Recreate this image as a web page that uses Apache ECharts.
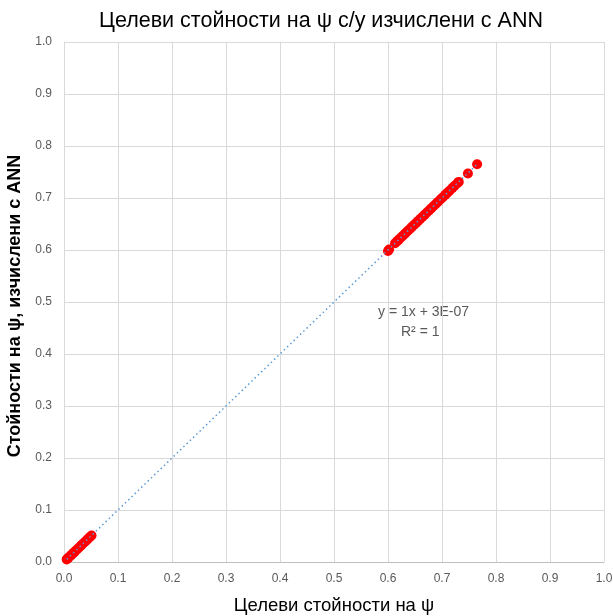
<!DOCTYPE html>
<html><head><meta charset="utf-8">
<script src="https://cdn.jsdelivr.net/npm/echarts@6/dist/echarts.min.js"></script>
<style>html,body{margin:0;padding:0;background:#fff}#c{width:613px;height:616px}</style>
</head><body><div id="c"></div>
<script>
const titleText = 'Целеви стойности на ψ с/у изчислени с ANN';
const xTitle = 'Целеви стойности на ψ';
const yTitle = 'Стойности на ψ, изчислени с ANN';
const targetX = [0.005,0.008,0.011,0.014,0.017,0.020,0.024,0.028,0.032,0.036,0.040,0.044,0.048,0.051,
  0.600,0.602,0.613,0.617,0.620,0.624,0.628,0.632,0.636,0.640,0.644,0.648,0.652,0.656,0.660,0.664,0.668,0.672,0.676,0.680,0.684,0.688,0.692,0.697,0.701,0.706,0.710,0.714,0.719,0.723,0.728,0.731,0.748,0.765];
const annY = [0.005,0.008,0.011,0.014,0.017,0.020,0.024,0.028,0.032,0.036,0.040,0.044,0.048,0.051,
  0.598,0.601,0.613,0.617,0.620,0.624,0.628,0.632,0.636,0.640,0.644,0.648,0.652,0.656,0.660,0.664,0.668,0.672,0.676,0.680,0.684,0.688,0.692,0.697,0.701,0.706,0.710,0.714,0.719,0.723,0.728,0.731,0.747,0.765];
const trendX = [0.005, 0.765];
const trendY = [0.005, 0.765];
const ticks = [0,0.1,0.2,0.3,0.4,0.5,0.6,0.7,0.8,0.9,1.0];
const eqText = 'y = 1x + 3E-07';
const r2Text = 'R² = 1';

const font = 'Liberation Sans';
const chart = echarts.init(document.getElementById('c'));
const axisCommon = {
  type:'value', min:ticks[0], max:ticks[ticks.length-1], interval:ticks[1]-ticks[0],
  axisLine:{show:false}, axisTick:{show:false},
  splitLine:{lineStyle:{color:'#d9d9d9', width:1}},
  axisLabel:{color:'#595959', fontSize:12, fontFamily:font, formatter:v=>v.toFixed(1)}
};
chart.setOption({
  animation:false,
  grid:{left:64, right:9, top:42, bottom:54, containLabel:false, outerBoundsMode:'none'},
  xAxis:Object.assign({}, axisCommon, {
    axisLine:{show:true, lineStyle:{color:'#bfbfbf'}},
    name:xTitle, nameLocation:'middle', nameGap:34,
    nameTextStyle:{fontFamily:font, fontSize:18.5, color:'#000'},
    axisLabel:Object.assign({}, axisCommon.axisLabel, {margin:11})
  }),
  yAxis:Object.assign({}, axisCommon, {
    name:yTitle, nameLocation:'middle', nameGap:31,
    nameTextStyle:{fontFamily:font, fontSize:18, fontWeight:'bold', color:'#000', padding:[0,8,0,0]},
    axisLabel:Object.assign({}, axisCommon.axisLabel, {margin:12})
  }),
  series:[
    {type:'line', data:trendX.map((x,i)=>[x,trendY[i]]), symbol:'none', silent:true,
     lineStyle:{color:'#5b9bd5', width:1.5, type:[1.5,3]}, z:3},
    {type:'scatter', data:targetX.map((x,i)=>[x,annY[i]]), symbolSize:10,
     itemStyle:{color:'#ff0000', opacity:1}, z:2}
  ],
  graphic:[
    {type:'text', x:321, y:10, style:{text:titleText, textAlign:'center', fontFamily:font, fontSize:21.5, fill:'#000'}},
    {type:'text', left:378, top:305, style:{text:eqText, fontFamily:font, fontSize:14, fill:'#595959'}},
    {type:'text', left:401, top:325, style:{text:r2Text, fontFamily:font, fontSize:14, fill:'#595959'}}
  ]
});
</script></body></html>
